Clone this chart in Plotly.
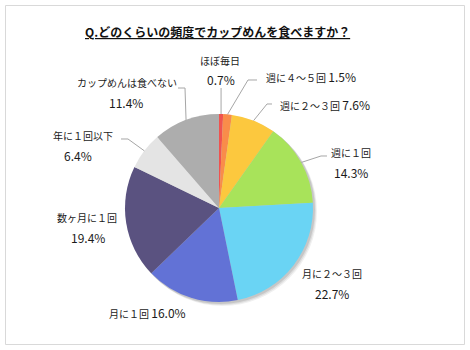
import math
import plotly.graph_objects as go

W, H = 470, 350

title = "Q.どのくらいの頻度でカップめんを食べますか？"
categories = ["ほぼ毎日", "週に４～５回", "週に２～３回", "週に１回", "月に２～３回",
              "月に１回", "数ヶ月に１回", "年に１回以下", "カップめんは食べない"]
values = [0.7, 1.5, 7.6, 14.3, 22.7, 16.0, 19.4, 6.4, 11.4]
colors = ["#ef5350", "#f98c4a", "#fcc83e", "#a8e35a", "#6ad4f4",
          "#6272d6", "#5a5280", "#e4e4e4", "#adadad"]

# layout (pixel positions)
CX, CY, R = 219, 208, 94
label_layout = [
    ("two", (220, 61), (221, 80)),
    ("one", (311, 77)),
    ("one", (325, 104)),
    ("two", (351, 152), (351, 172)),
    ("two", (332, 273), (332, 293)),
    ("one", (147, 312)),
    ("two", (87, 217), (88, 237)),
    ("two", (83, 135), (78, 155)),
    ("two", (127, 82), (126, 103)),
]
leaders = {
    0: [(None, 88)],
    1: [(248, 80), (257, 80)],
    2: [(267, 104), (272, 104)],
    3: [(321, 156), (327, 156)],
    7: [(128, 139), (121, 139)],
    8: [(185, 88), (178, 88)],
}


def px(x):
    return x / W


def py(y):
    return 1 - y / H


fig = go.Figure()
fig.add_trace(go.Pie(
    labels=categories, values=values, sort=False, direction="clockwise", rotation=0,
    marker=dict(colors=colors, line=dict(width=0)),
    textinfo="none", hoverinfo="label+percent", showlegend=False,
    domain=dict(x=[px(CX - R), px(CX + R)], y=[py(CY + R), py(CY - R)]),
))

FAM = "Noto Sans CJK JP"
name_font = dict(family=FAM, size=10, color="#1a1a1a")
pct_font = dict(family=FAM, size=12, color="#1a1a1a")
annotations = []
shapes = []

shapes.append(dict(type="rect", xref="paper", yref="paper", x0=px(5.5), x1=px(464.5),
                   y0=py(344.5), y1=py(5.5), line=dict(color="#d9d9d9", width=1),
                   fillcolor="rgba(0,0,0,0)", layer="below"))
for off, op in [(4, 0.06), (3, 0.08), (2, 0.10)]:
    shapes.append(dict(type="circle", xref="paper", yref="paper",
                       x0=px(CX - R + off - 1), x1=px(CX + R + off), y0=py(CY + R + off),
                       y1=py(CY - R + off - 1), line=dict(width=0),
                       fillcolor=f"rgba(0,0,0,{op})", layer="below"))


def ann(text, pos, font):
    annotations.append(dict(text=text, x=px(pos[0]), y=py(pos[1]), xref="paper", yref="paper",
                            showarrow=False, font=font, xanchor="center", yanchor="middle"))


total = sum(values)
cum = 0.0
for i, (name, v) in enumerate(zip(categories, values)):
    mid = (cum + v / 2) / total * 2 * math.pi
    cum += v
    ex, ey = CX + R * math.sin(mid), CY - R * math.cos(mid)
    lay = label_layout[i]
    pct = f"{v:.1f}%"
    if lay[0] == "one":
        ann(f"{name} <span style=\"font-size:12px\">{pct}</span>", lay[1], name_font)
    else:
        ann(name, lay[1], name_font)
        ann(pct, lay[2], pct_font)
    if i in leaders:
        pts = [(ex, ey)]
        for (lx, ly) in leaders[i]:
            pts.append((ex if lx is None else lx, ly))
        path = "M " + " L ".join(f"{px(x):.5f},{py(y):.5f}" for x, y in pts)
        shapes.append(dict(type="path", xref="paper", yref="paper", path=path,
                           line=dict(color="#a6a6a6", width=1), layer="above"))

annotations.append(dict(text=f"<b>{title}</b>", x=px(217), y=py(32), xref="paper", yref="paper",
                        showarrow=False, xanchor="center", yanchor="middle",
                        font=dict(family=FAM, size=12, color="#111111", lineposition="under")))

fig.update_layout(width=W, height=H, margin=dict(l=0, r=0, t=0, b=0),
                  paper_bgcolor="white", plot_bgcolor="white",
                  annotations=annotations, shapes=shapes)

fig.write_html("out.html", config={"displayModeBar": False})
